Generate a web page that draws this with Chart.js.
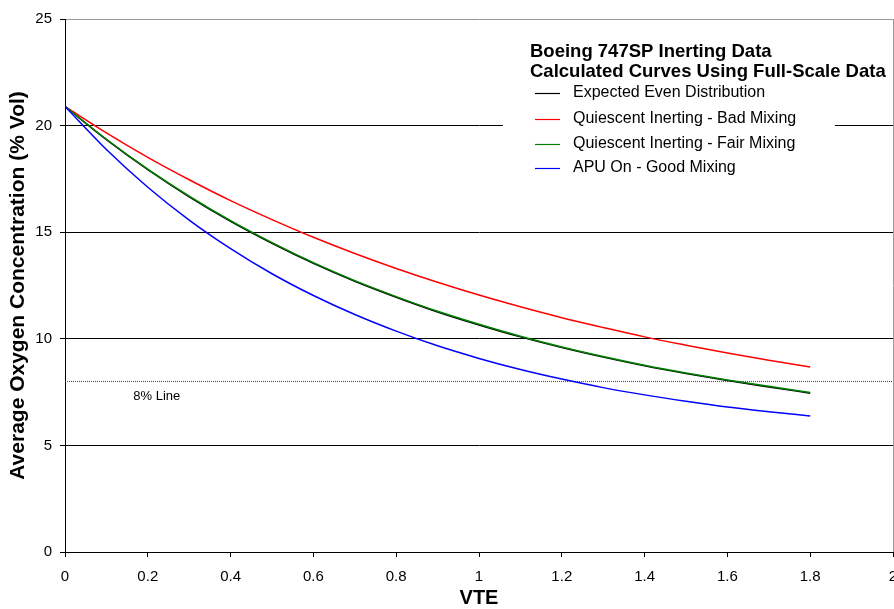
<!DOCTYPE html>
<html lang="en">
<head>
<meta charset="UTF-8">
<title>Boeing 747SP Inerting Data</title>
<script src="https://cdn.jsdelivr.net/npm/chart.js"></script>
<style>
    body { margin: 0; background: #fff; }
    canvas { display: block; }
</style>
</head>
<body>
<canvas id="chart" width="894" height="609"></canvas>
<script>
// VTE values (x) and average O2 concentration (% vol) for each curve
const vte = [0, 0.1, 0.2, 0.3, 0.4, 0.5, 0.6, 0.7, 0.8, 0.9, 1.0, 1.1, 1.2, 1.3, 1.4, 1.5, 1.6, 1.7, 1.8];
const expectedEven = [20.9, 19.34, 17.93, 16.66, 15.51, 14.48, 13.54, 12.70, 11.95, 11.26, 10.65, 10.09, 9.59, 9.14, 8.73, 8.37, 8.04, 7.74, 7.45];
const badMixing    = [20.9, 19.66, 18.51, 17.46, 16.48, 15.59, 14.76, 14.00, 13.30, 12.65, 12.05, 11.50, 10.99, 10.53, 10.09, 9.70, 9.33, 8.99, 8.68];
const fairMixing   = [20.9, 19.36, 17.96, 16.69, 15.54, 14.51, 13.57, 12.73, 11.98, 11.29, 10.68, 10.12, 9.62, 9.17, 8.76, 8.40, 8.07, 7.77, 7.48];
const goodMixing   = [20.9, 18.88, 17.11, 15.57, 14.23, 13.05, 12.03, 11.14, 10.36, 9.67, 9.08, 8.56, 8.11, 7.71, 7.37, 7.07, 6.80, 6.58, 6.38];
const limitX = [0, 2];
const limitY = [8, 8];

const seriesNames = ['Expected Even Distribution', 'Quiescent Inerting - Bad Mixing', 'Quiescent Inerting - Fair Mixing', 'APU On - Good Mixing'];
const seriesColors = ['#000000', '#ff0000', '#008000', '#0000ff'];
const legendTitle = ['Boeing 747SP Inerting Data', 'Calculated Curves Using Full-Scale Data'];

const FONT = "'Liberation Sans', Arial, sans-serif";

function pts(xs, ys) {
    return xs.map((x, i) => ({ x: x, y: ys[i] }));
}

function curve(i, ys, order) {
    return {
        label: seriesNames[i],
        data: pts(vte, ys),
        borderColor: seriesColors[i],
        backgroundColor: seriesColors[i],
        borderWidth: 1.5,
        pointRadius: 0,
        showLine: true,
        cubicInterpolationMode: 'monotone',
        order: order
    };
}

// custom legend + "8% Line" note, drawn on top of the plot
const extras = {
    id: 'extras',
    afterDraw(chart) {
        const ctx = chart.ctx;
        const xs = chart.scales.x, ys = chart.scales.y;
        ctx.save();

        ctx.fillStyle = '#000';
        ctx.font = '13px ' + FONT;
        ctx.textAlign = 'left';
        ctx.textBaseline = 'middle';
        ctx.fillText('8% Line', xs.getPixelForValue(0.165), ys.getPixelForValue(7.32));

        ctx.fillStyle = '#fff';
        ctx.fillRect(503, 82, 332, 100);

        ctx.fillStyle = '#000';
        ctx.font = 'bold 18.5px ' + FONT;
        ctx.fillText(legendTitle[0], 530, 52);
        ctx.fillText(legendTitle[1], 530, 72);

        ctx.font = '16px ' + FONT;
        const rowY = [93, 119, 144, 168];
        chart.data.datasets.slice(0, 4).forEach((ds, i) => {
            ctx.strokeStyle = ds.borderColor;
            ctx.lineWidth = 1.2;
            ctx.beginPath();
            ctx.moveTo(535, rowY[i] + 0.5);
            ctx.lineTo(560, rowY[i] + 0.5);
            ctx.stroke();
            ctx.fillStyle = '#000';
            ctx.fillText(ds.label, 573, rowY[i]);
        });
        ctx.restore();
    }
};

new Chart(document.getElementById('chart'), {
    type: 'scatter',
    data: {
        datasets: [
            curve(0, expectedEven, 3),
            curve(1, badMixing, 2),
            curve(2, fairMixing, 1),
            curve(3, goodMixing, 0),
            {
                label: '8% Line',
                data: pts(limitX, limitY),
                borderColor: '#444',
                borderWidth: 1,
                borderDash: [1, 1],
                pointRadius: 0,
                showLine: true,
                order: 4
            }
        ]
    },
    options: {
        responsive: false,
        animation: false,
        layout: { padding: { top: 19, right: 1, left: 0, bottom: 0 } },
        plugins: {
            legend: { display: false },
            tooltip: { enabled: false }
        },
        scales: {
            x: {
                type: 'linear',
                min: 0,
                max: 2,
                afterFit(scale) {
                    scale.height = 57;
                    scale.paddingRight = 0;   // let the "2" label run off the edge
                },
                ticks: {
                    stepSize: 0.2,
                    color: '#000',
                    padding: 11,
                    font: { family: FONT, size: 15 },
                    callback: v => String(Math.round(v * 10) / 10)
                },
                grid: {
                    color: c => c.tick && c.tick.value === 2 ? '#999' : 'rgba(0,0,0,0)',
                    tickColor: '#000',
                    tickLength: 5,
                    lineWidth: 1
                },
                border: { color: '#000', width: 1 },
                title: {
                    display: true,
                    text: 'VTE',
                    color: '#000',
                    font: { family: FONT, size: 20, weight: 'bold' },
                    padding: { top: 0, bottom: -1 }
                }
            },
            y: {
                min: 0,
                max: 25,
                afterFit(scale) { scale.width = 65; },
                ticks: {
                    stepSize: 5,
                    color: '#000',
                    padding: 8,
                    font: { family: FONT, size: 15 }
                },
                grid: {
                    color: c => c.tick && c.tick.value === 25 ? '#999' : '#000',
                    tickColor: '#000',
                    tickLength: 5,
                    lineWidth: 1
                },
                border: { color: '#000', width: 1 },
                title: {
                    display: true,
                    text: 'Average Oxygen Concentration (% Vol)',
                    color: '#000',
                    font: { family: FONT, size: 21, weight: 'bold' },
                    padding: { top: 6, bottom: 0 }
                }
            }
        }
    },
    plugins: [extras]
});
</script>
</body>
</html>
